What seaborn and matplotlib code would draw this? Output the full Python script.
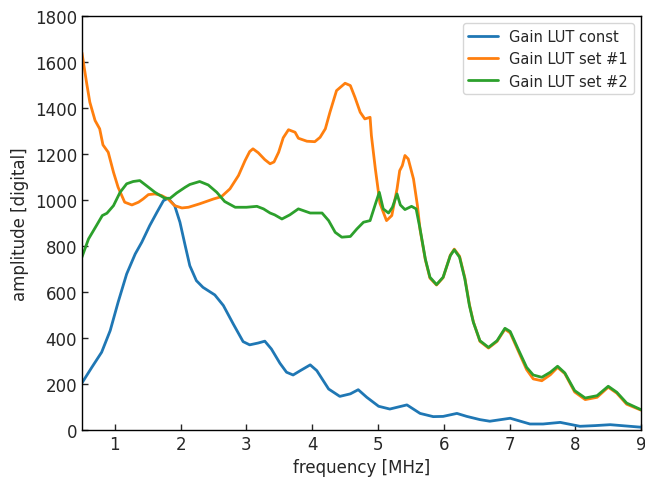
import numpy as np
import pandas as pd
import matplotlib
matplotlib.use("Agg")
import matplotlib.pyplot as plt
import seaborn as sns

const_x = [0.5, 0.65, 0.80, 0.93, 1.05, 1.18, 1.31, 1.41, 1.53, 1.64, 1.74, 1.81, 1.91, 1.99,
           2.07, 2.14, 2.24, 2.34, 2.52, 2.65, 2.80, 2.95, 3.05, 3.18, 3.28, 3.38, 3.51, 3.61,
           3.71, 3.82, 3.97, 4.07, 4.25, 4.42, 4.58, 4.70, 4.83, 5.01, 5.18, 5.44, 5.64, 5.84,
           5.99, 6.20, 6.35, 6.55, 6.70, 7.01, 7.31, 7.51, 7.77, 8.07, 8.30, 8.53, 9.0]
const_y = [204, 272, 338, 432, 555, 678, 765, 816, 888, 946, 997, 1007, 975, 903,
           801, 714, 649, 620, 587, 541, 461, 384, 370, 378, 386, 352, 290, 251,
           239, 258, 283, 258, 178, 146, 157, 175, 142, 103, 91, 109, 72, 58,
           59, 72, 59, 45, 38, 51, 26, 26, 33, 16, 19, 23, 12]

set1_x = [0.5, 0.57, 0.62, 0.70, 0.77, 0.82, 0.90, 0.98, 1.05, 1.15, 1.26, 1.36, 1.43, 1.51,
          1.61, 1.71, 1.81, 1.91, 2.02, 2.12, 2.29, 2.50, 2.62, 2.75, 2.88, 2.98, 3.05, 3.10,
          3.18, 3.28, 3.36, 3.42, 3.49, 3.56, 3.64, 3.74, 3.79, 3.92, 4.04, 4.12, 4.20, 4.27,
          4.37, 4.50, 4.58, 4.65, 4.73, 4.80, 4.88, 4.90, 4.96, 5.03, 5.13, 5.21, 5.29, 5.33,
          5.37, 5.41, 5.46, 5.54, 5.60,
          5.64, 5.72, 5.79, 5.89, 5.99, 6.10, 6.16, 6.24, 6.32, 6.39, 6.45, 6.55, 6.68, 6.81,
          6.93, 7.01, 7.13, 7.26, 7.36, 7.49, 7.62, 7.73, 7.84, 7.99, 8.15, 8.33, 8.50, 8.63,
          8.78, 9.0]
set1_y = [1640, 1511, 1425, 1345, 1309, 1239, 1207, 1120, 1055, 990, 978, 990, 1004, 1023,
          1026, 1019, 1004, 975, 965, 968, 983, 1004, 1014, 1048, 1106, 1171, 1210, 1222,
          1205, 1175, 1157, 1165, 1207, 1270, 1305, 1294, 1268, 1255, 1253, 1272, 1309, 1381,
          1475, 1507, 1497, 1446, 1381, 1352, 1359, 1280, 1135, 985, 910, 932, 1048, 1127,
          1149, 1193, 1178, 1091, 975,
          870, 740, 660, 630, 662, 760, 786, 755, 662, 545, 470, 385, 356, 385,
          438, 422, 345, 262, 222, 214, 240, 272, 245, 165, 132, 142, 186, 160,
          112, 86]

set2_x = [0.5, 0.60, 0.72, 0.81, 0.88, 0.98, 1.08, 1.18, 1.28, 1.38, 1.48, 1.61, 1.76, 1.84,
          1.94, 2.07, 2.14, 2.29, 2.42, 2.55, 2.67, 2.83, 3.00, 3.16, 3.26, 3.36, 3.43, 3.54,
          3.66, 3.79, 3.97, 4.15, 4.25, 4.35, 4.45, 4.58, 4.68, 4.78, 4.88, 4.97, 5.02, 5.08,
          5.16, 5.22, 5.29, 5.34, 5.41, 5.51, 5.58,
          5.64, 5.72, 5.79, 5.89, 5.99, 6.10, 6.16, 6.24, 6.32, 6.39, 6.45, 6.55, 6.68, 6.81,
          6.93, 7.01, 7.13, 7.26, 7.36, 7.49, 7.62, 7.73, 7.84, 7.99, 8.15, 8.33, 8.50, 8.63,
          8.78, 9.0]
set2_y = [751, 830, 888, 932, 942, 975, 1033, 1070, 1080, 1084, 1062, 1033, 1007, 1007,
          1030, 1055, 1067, 1080, 1065, 1033, 993, 968, 968, 972, 961, 943, 935, 917,
          935, 961, 943, 943, 910, 859, 838, 841, 874, 903, 910, 990, 1033, 961,
          943, 968, 1026, 978, 958, 972, 961,
          874, 743, 664, 632, 664, 758, 783, 751, 657, 541, 468, 388, 359, 388,
          442, 428, 352, 272, 239, 229, 251, 277, 248, 171, 139, 149, 190, 164,
          117, 88]

labels = ["Gain LUT const", "Gain LUT set #1", "Gain LUT set #2"]

df = pd.concat([
    pd.DataFrame({"f": const_x, "a": const_y, "s": labels[0]}),
    pd.DataFrame({"f": set1_x, "a": set1_y, "s": labels[1]}),
    pd.DataFrame({"f": set2_x, "a": set2_y, "s": labels[2]}),
])

sns.set_style("ticks")
plt.rcParams['font.family'] = ['DejaVu Sans']

fig = plt.figure(figsize=(6.45, 4.81), dpi=100)
ax = fig.add_axes([0.127, 0.104, 0.867, 0.861])
palette = ["#1f77b4", "#ff7f0e", "#2ca02c"]
sns.lineplot(data=df, x="f", y="a", hue="s", palette=palette, estimator=None,
             sort=False, linewidth=2, ax=ax)

ax.set_xlim(0.5, 9)
ax.set_ylim(0, 1800)
ax.set_xticks(range(1, 10))
ax.set_yticks(range(0, 1801, 200))
ax.tick_params(direction="in", labelsize=12, length=4, width=1)
ax.set_xlabel("frequency [MHz]", fontsize=12)
ax.set_ylabel("amplitude [digital]", fontsize=12)
for sp in ax.spines.values():
    sp.set_visible(True)
    sp.set_color("black")
    sp.set_linewidth(1)
leg = ax.legend(loc="upper right", fontsize=10.5, frameon=True)
leg.set_title(None)

fig.savefig("out.png", dpi=100)
